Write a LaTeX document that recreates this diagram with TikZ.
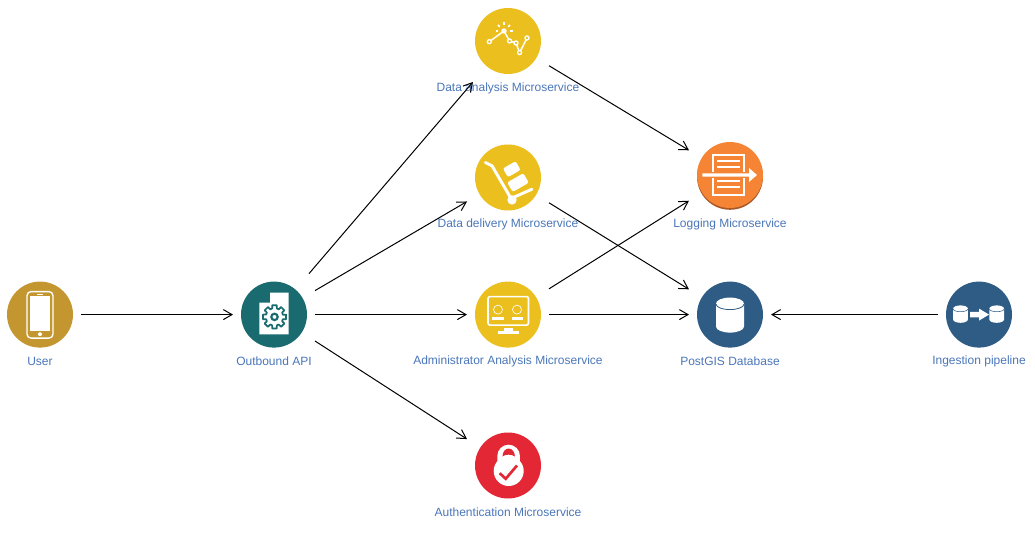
\documentclass[tikz,border=0pt]{standalone}
\usepackage{fontspec}
\setmainfont{Liberation Sans}
\usetikzlibrary{arrows.meta}

\definecolor{usergold}{HTML}{C39630}
\definecolor{apiteal}{HTML}{196B70}
\definecolor{serviceyellow}{HTML}{EBBF1D}
\definecolor{logorange}{HTML}{F58534}
\definecolor{logshade}{HTML}{A9582A}
\definecolor{dbblue}{HTML}{2F5C85}
\definecolor{authred}{HTML}{E42735}
\definecolor{captionblue}{HTML}{4A76B8}

\tikzset{
    iconbox/.style={rectangle, minimum size=61.5pt, inner sep=0pt, outer sep=0pt},
    caption/.style={font=\fontsize{9pt}{11pt}\selectfont, text=captionblue, inner sep=0pt},
    flow/.style={->, line width=.75pt},
    whiteline/.style={draw=white, line width=1.1pt, line join=round},
}

\begin{document}
\begin{tikzpicture}[x=.75pt, y=-.75pt, >={Straight Barb[length=6.5pt, width=7.5pt, line width=.75pt]}]
    \useasboundingbox (0,0) rectangle (1035,534);

    \node[iconbox] (user) at (40,314.6) {};
    \node[iconbox] (api) at (274,314.6) {};
    \node[iconbox] (analysis) at (508,41) {};
    \node[iconbox] (delivery) at (508,177.5) {};
    \node[iconbox] (admin) at (508,314.6) {};
    \node[iconbox] (auth) at (508,465.5) {};
    \node[iconbox] (logging) at (730,175) {};
    \node[iconbox] (postgis) at (730,314.6) {};
    \node[iconbox] (ingestion) at (979,314.6) {};

    % User
    \begin{scope}[shift={(user)}]
        \fill[usergold] (0,0) circle (33);
        \draw[white, line width=1pt, rounded corners=3pt] (-13,-23) rectangle (13,23.5);
        \fill[white] (-10.3,-18.7) rectangle (10.3,16.3);
        \fill[white] (-3.3,-20.8) rectangle (3.3,-19.8);
        \fill[white] (0,19.6) circle (2);
    \end{scope}

    % Outbound API
    \begin{scope}[shift={(api)}]
        \fill[apiteal] (0,0) circle (33);
        \fill[white] (-14.7,-12) -- (-4,-12) -- (-4,-22) -- (14.7,-22) -- (14.7,19.7) -- (-14.7,19.7) -- cycle;
        \draw[apiteal, line width=1.3pt, line join=round, shift={(.5,2.3)}]
            (-14:8.7) \foreach \a in {0,45,...,315} {
                -- (\a-11:11.8) -- (\a+11:11.8) -- (\a+16:8.7) -- (\a+29:8.7)
            } -- cycle;
        \draw[apiteal, line width=1.6pt] (.5,2.3) circle (3.2);
    \end{scope}

    % Data analysis
    \begin{scope}[shift={(analysis)}]
        \fill[serviceyellow] (0,0) circle (33);
        \draw[whiteline] (-18.7,.7) -- (-4,-10) -- (1.6,0) -- (8,2) -- (11.6,11.6) -- (19,-3);
        \fill[white] (-4,-10) circle (2.7);
        \foreach \a/\p in {-18.7/.7, 1.6/0, 8/2, 11.6/11.6, 19/-3} {
            \filldraw[fill=serviceyellow, draw=white, line width=1pt] (\a,\p) circle (2);
        }
        \foreach \r in {0,45,90,135,180} {
            \draw[whiteline] (-4,-10) ++(-\r:6) -- ++(-\r:2.5);
        }
    \end{scope}

    % Data delivery
    \begin{scope}[shift={(delivery)}]
        \fill[serviceyellow] (0,0) circle (33);
        \draw[white, line width=2.2pt, line cap=round, line join=round] (-22.7,-15) -- (-16,-11.7) -- (3,21) -- (24,11.7);
        \fill[white] (4,22.4) circle (4.7);
        \fill[white, rounded corners=1.5pt] (12.6,-7.6) -- (7.6,-16.3) -- (-5.1,-9) -- (-.1,-.3) -- cycle;
        \fill[white, rounded corners=1.5pt] (20.8,5.2) -- (15.3,-4.3) -- (-.8,5) -- (4.7,14.5) -- cycle;
    \end{scope}

    % Administrator analysis
    \begin{scope}[shift={(admin)}]
        \fill[serviceyellow] (0,0) circle (33);
        \draw[white, line width=1.2pt, rounded corners=1.5pt] (-20,-18) rectangle (20.5,10.5);
        \draw[white, line width=.5pt] (-10,-5) circle (4.5);
        \draw[white, line width=.5pt] (9,-5) circle (4.5);
        \fill[white] (-16,2) rectangle (-4.5,5.7);
        \fill[white] (3.5,2) rectangle (14.5,5.7);
        \fill[white] (-4,13) rectangle (4.5,16.3);
        \fill[white] (-10,16.3) rectangle (10.5,19);
    \end{scope}

    % Authentication
    \begin{scope}[shift={(auth)}]
        \fill[authred] (0,0) circle (33);
        \fill[white] (.7,5.5) circle (15);
        \fill[white] (-10.7,3) -- (-10.7,-9.5) arc[start angle=180, end angle=360, radius=11.3] -- (11.9,3) -- cycle;
        \fill[authred] (-5.5,-9) arc[start angle=180, end angle=360, x radius=6.2, y radius=8] .. controls (4,-11.5) and (-3,-11.5) .. (-5.5,-9) -- cycle;
        \draw[authred, line width=2pt] (-8.3,7.7) -- (-2.3,13.3) -- (9,0);
    \end{scope}

    % Logging
    \begin{scope}[shift={(logging)}]
        \fill[logshade] (0,1.8) circle (33);
        \fill[logorange] (0,0) circle (33);
        \draw[white, line width=1.5pt] (-17.3,-3) -- (-17.3,-20.3) -- (14,-20.3) -- (14,-3);
        \draw[white, line width=1.5pt] (-17.3,3) -- (-17.3,19.7) -- (14,19.7) -- (14,3);
        \fill[white] (-13.3,-14.8) rectangle (10,-12.6);
        \fill[white] (-13.3,-8.8) rectangle (10,-6.6);
        \fill[white] (-13.3,5.2) rectangle (10,7.4);
        \fill[white] (-13.3,10.9) rectangle (10,13.1);
        \fill[white] (-27.7,-1.6) -- (19,-1.6) -- (19,-7) -- (27,0) -- (19,7) -- (19,1.6) -- (-27.7,1.6) -- cycle;
    \end{scope}

    % PostGIS
    \begin{scope}[shift={(postgis)}]
        \fill[dbblue] (0,0) circle (33);
        \fill[white] (-14,-11) arc[start angle=180, end angle=360, x radius=14, y radius=6]
            -- (14,12) arc[start angle=0, end angle=180, x radius=14, y radius=6] -- cycle;
        \draw[dbblue, line width=.6pt] (-14,-10.5) arc[start angle=180, end angle=0, x radius=14, y radius=5.5];
    \end{scope}

    % Ingestion
    \begin{scope}[shift={(ingestion)}]
        \fill[dbblue] (0,0) circle (33);
        \foreach \c in {-18.5,17.7} {
            \fill[white] (\c-7.3,-6) arc[start angle=180, end angle=360, x radius=7.3, y radius=3.2]
                -- (\c+7.3,5) arc[start angle=0, end angle=180, x radius=7.3, y radius=3.2] -- cycle;
            \draw[dbblue, line width=.4pt] (\c-7.3,-5.6) arc[start angle=180, end angle=0, x radius=7.3, y radius=2.7];
        }
        \fill[white] (-9,-2.7) -- (0,-2.7) -- (0,-6) -- (10,0) -- (0,6) -- (0,2.7) -- (-9,2.7) -- cycle;
    \end{scope}

    % Captions
    \node[caption] (userlabel) at (40,361.7) {User};
    \node[caption] (apilabel) at (274,361.7) {Outbound API};
    \node[caption] (analysislabel) at (508,88.7) {Data analysis Microservice};
    \node[caption] (deliverylabel) at (508,224.7) {Data delivery Microservice};
    \node[caption] (adminlabel) at (508,361.7) {Administrator Analysis Microservice};
    \node[caption] (authlabel) at (508,512.7) {Authentication Microservice};
    \node[caption] (logginglabel) at (730,224.7) {Logging Microservice};
    \node[caption] (postgislabel) at (730,361.7) {PostGIS Database};
    \node[caption] (ingestionlabel) at (979,361.7) {Ingestion pipeline};

    % Connectors
    \draw[flow] (user) -- (api);
    \draw[flow] (api) -- (analysis);
    \draw[flow] (api) -- (delivery);
    \draw[flow] (api) -- (admin);
    \draw[flow] (api) -- (auth);
    \draw[flow] (analysis) -- (logging);
    \draw[flow] (delivery) -- (postgis);
    \draw[flow] (admin) -- (logging);
    \draw[flow] (admin) -- (postgis);
    \draw[flow] (ingestion) -- (postgis);
\end{tikzpicture}
\end{document}
